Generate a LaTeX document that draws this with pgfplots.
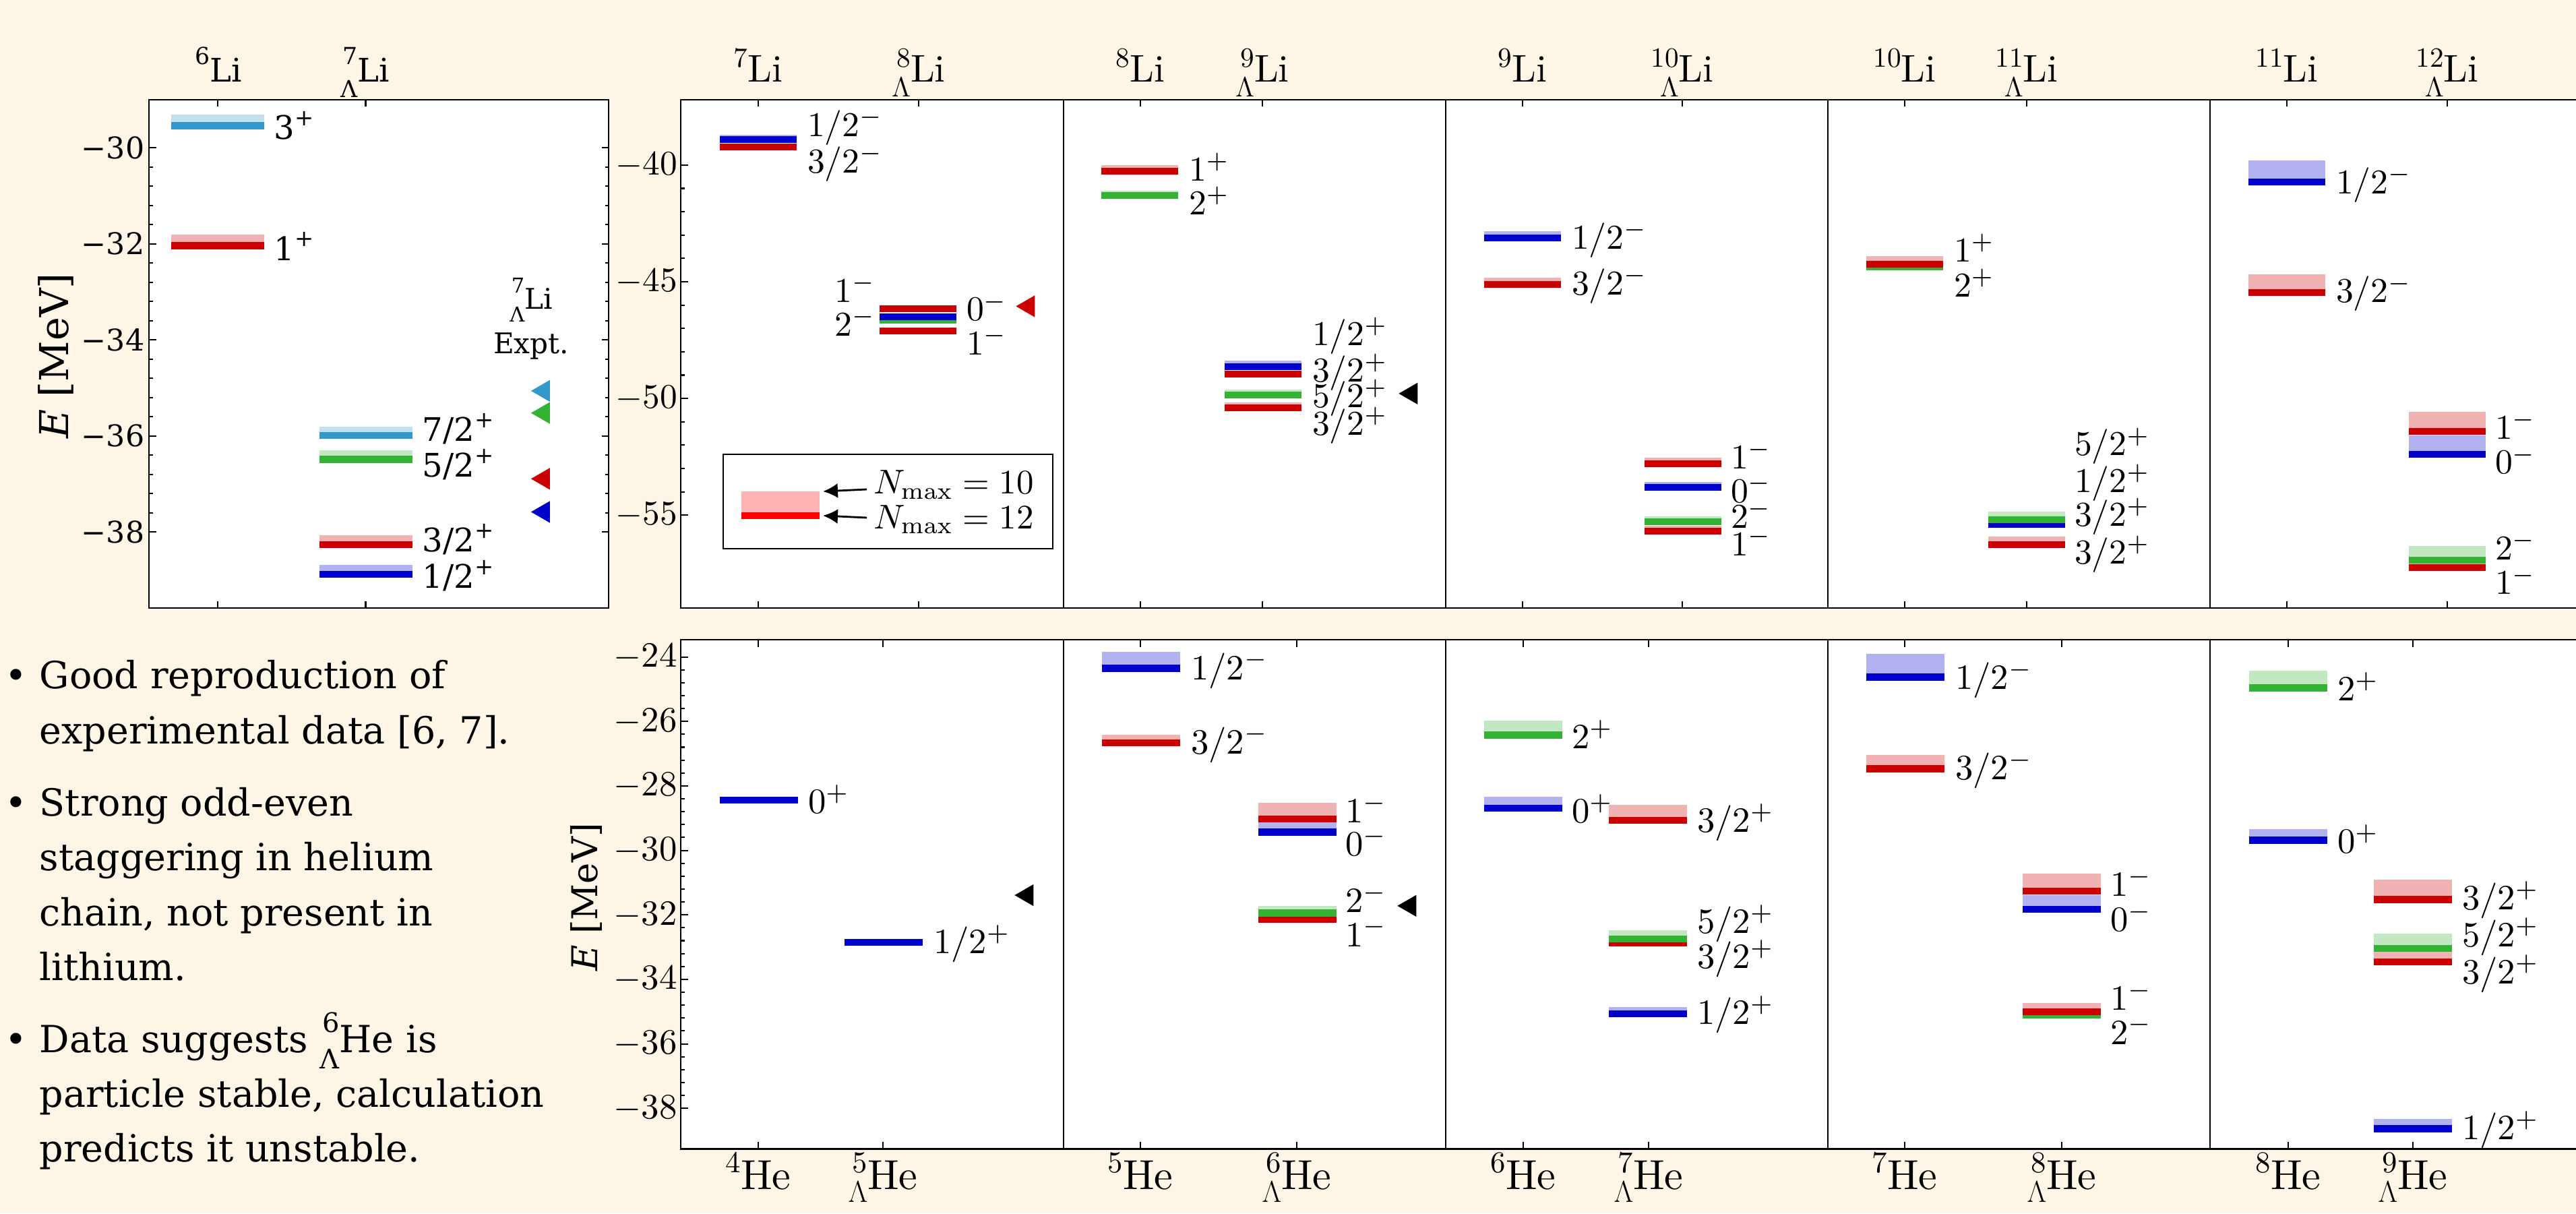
\RequirePackage{fix-cm}
\documentclass[border=0pt]{standalone}
\usepackage[no-math]{fontspec}
\usepackage{graphicx}
\usepackage{pgfplots}
\pgfplotsset{compat=1.18}
\usetikzlibrary{arrows.meta}
\newfontfamily\djv{DejaVu Serif}
\newfontfamily\lmten{lmroman10-regular.otf}

\definecolor{bg}{RGB}{253,246,230}
\definecolor{cR}{RGB}{204,0,0}
\definecolor{cB}{RGB}{0,0,204}
\definecolor{cG}{RGB}{51,178,51}
\definecolor{cS}{RGB}{51,153,204}
\colorlet{lR}{cR!30!white}
\colorlet{lB}{cB!30!white}
\colorlet{lG}{cG!30!white}
\colorlet{lS}{cS!30!white}
\definecolor{legD}{RGB}{255,0,0}
\definecolor{legL}{RGB}{255,179,179}

% stacked prescripts: #1 upper, #2 lower, #3 raise, #4 lower amount
\newcommand\pres[4]{\begingroup
  \setbox0=\hbox{\raisebox{#3}{\scalebox{0.72}{#1}}}%
  \setbox2=\hbox{\raisebox{-#4}{\scalebox{0.72}{#2}}}%
  \dimen0=\wd0 \ifdim\wd2>\dimen0 \dimen0=\wd2 \fi
  \hbox{\hbox to\dimen0{\hss\box0}\kern-\dimen0\hbox to\dimen0{\hss\box2}}\endgroup}
\newcommand\iso[2]{\pres{#1}{}{0.40em}{0pt}#2}
\newcommand\hyp[2]{\pres{#1}{$\Lambda$}{0.40em}{0.37em}#2}
\newcommand\isoH[2]{\pres{#1}{}{0.39em}{0pt}#2}
\newcommand\hypH[2]{\pres{#1}{$\Lambda$}{0.39em}{0.32em}#2}
\newcommand\sps[1]{\raisebox{0.42em}{\scalebox{0.7}{#1}}}

% level: x centre, E(Nmax=12), E(Nmax=10), colour key
\newcommand\lev[4]{%
  \pgfmathsetmacro\xa{#1-\hw}\pgfmathsetmacro\xb{#1+\hw}%
  \edef\tmp{\noexpand\addplot[draw=none,fill=l#4,forget plot] coordinates {(\xa,#2) (\xb,#2) (\xb,#3) (\xa,#3)};%
    \noexpand\addplot[draw=c#4,line width=\barw,forget plot] coordinates {(\xa,#2) (\xb,#2)};}%
  \tmp}

\pgfplotsset{lvl/.style={scale only axis, clip=false, anchor=south west,
  axis line style={line width=0.7pt}, tick style={line width=0.6pt, black},
  major tick length=0.105cm, minor tick length=0.055cm,
  tick align=inside, tick pos=both, axis background/.style={fill=white},
  xticklabels={,,}}}
\pgfplotsset{expt/.style={only marks, mark=triangle*, mark size=4.9pt, forget plot,
  mark options={rotate=90, draw=#1, fill=#1}}}

\tikzset{
  lbT/.style={anchor=base west, inner sep=0pt, font=\djv\fontsize{13.7}{16}\selectfont},
  lbB/.style={anchor=base west, inner sep=0pt, font=\fontsize{10}{12}\selectfont, scale=1.47},
  lbBe/.style={anchor=base east, inner sep=0pt, font=\fontsize{10}{12}\selectfont, scale=1.47},
  lbH/.style={anchor=base west, inner sep=0pt, font=\fontsize{10}{12}\selectfont, scale=1.5},
  isoB/.style={anchor=base, inner sep=0pt, font=\lmten\fontsize{16.3}{19}\selectfont},
  isoH/.style={anchor=base, inner sep=0pt, font=\lmten\fontsize{17.7}{20}\selectfont},
  bul/.style={anchor=base west, inner sep=0pt, font=\djv\fontsize{15.8}{19}\selectfont}
}

\begin{document}
\begin{tikzpicture}[x=1cm,y=1cm]
\fill[bg] (0,0) rectangle (38.22,18);

% ---------------- top-left panel ----------------
\def\hw{0.69}\def\barw{0.106cm}
\begin{axis}[lvl, at={(2.21cm,8.98cm)}, width=6.82cm, height=7.54cm,
  xmin=2.21, xmax=9.03, ymin=-39.58, ymax=-29.0,
  xtick={3.23,5.425},
  ytick={-38,-36,-34,-32,-30}, yticklabels={−38,−36,−34,−32,−30},
  minor y tick num=4,
  yticklabel style={font=\djv\fontsize{12.6}{15}\selectfont, inner sep=0pt, xshift=-0.06cm}]
\lev{3.23}{-29.54}{-29.31}{S}
\lev{3.23}{-32.04}{-31.81}{R}
\lev{5.425}{-35.99}{-35.80}{S}
\lev{5.425}{-36.49}{-36.30}{G}
\lev{5.425}{-38.26}{-38.06}{R}
\lev{5.425}{-38.88}{-38.68}{B}
\addplot[expt=cS] coordinates {(8.065,-35.06)};
\addplot[expt=cG] coordinates {(8.065,-35.52)};
\addplot[expt=cR] coordinates {(8.065,-36.89)};
\addplot[expt=cB] coordinates {(8.065,-37.58)};
\node[lbT] at (axis cs:4.06,-29.82) {3\sps{+}};
\node[lbT] at (axis cs:4.06,-32.34) {1\sps{+}};
\node[lbT] at (axis cs:6.26,-36.11) {7/2\sps{+}};
\node[lbT] at (axis cs:6.26,-36.85) {5/2\sps{+}};
\node[lbT] at (axis cs:6.26,-38.41) {3/2\sps{+}};
\node[lbT] at (axis cs:6.26,-39.17) {1/2\sps{+}};
\node[anchor=base, inner sep=0pt, font=\djv\fontsize{12}{14}\selectfont] at (axis cs:7.88,-33.35) {\pres{7}{Λ}{0.55em}{0.47em}Li};
\node[anchor=base, inner sep=0pt, font=\djv\fontsize{12}{14}\selectfont] at (axis cs:7.88,-34.28) {Expt.};
\node[anchor=base, inner sep=0pt, yshift=0.26cm, font=\djv\fontsize{13.7}{16}\selectfont] at (axis cs:3.24,-29.0) {\pres{6}{}{0.55em}{0pt}Li};
\node[anchor=base, inner sep=0pt, yshift=0.26cm, font=\djv\fontsize{13.7}{16}\selectfont] at (axis cs:5.42,-29.0) {\pres{7}{Λ}{0.55em}{0.47em}Li};
\end{axis}

% ---------------- top big panel ----------------
\def\hw{0.57}\def\barw{0.1cm}
\begin{axis}[lvl, at={(10.10cm,8.98cm)}, width=28.36cm, height=7.54cm,
  xmin=10.10, xmax=38.46, ymin=-58.98, ymax=-37.20,
  xtick={11.25,13.63,16.92,18.73,22.59,24.96,28.26,30.07,33.93,36.31},
  ytick={-55,-50,-45,-40}, minor y tick num=4,
  yticklabel style={inner sep=0pt, xshift=-0.04cm, font=\fontsize{10}{12}\selectfont, scale=1.46}]
\draw[line width=0.7pt] (axis cs:15.78,-58.98) -- (axis cs:15.78,-37.20);
\draw[line width=0.7pt] (axis cs:21.45,-58.98) -- (axis cs:21.45,-37.20);
\draw[line width=0.7pt] (axis cs:27.12,-58.98) -- (axis cs:27.12,-37.20);
\draw[line width=0.7pt] (axis cs:32.79,-58.98) -- (axis cs:32.79,-37.20);
% 7Li
\lev{11.245}{-39.23}{-39.07}{R}
\lev{11.245}{-38.91}{-38.70}{B}
% 8 Lambda Li
\lev{13.62}{-46.15}{-46.05}{R}
\lev{13.62}{-46.64}{-46.55}{G}
\lev{13.62}{-46.50}{-46.42}{B}
\lev{13.62}{-47.11}{-47.02}{R}
% 8Li
\lev{16.91}{-40.25}{-40.01}{R}
\lev{16.91}{-41.30}{-41.09}{G}
% 9 Lambda Li
\lev{18.735}{-48.95}{-48.88}{R}
\lev{18.735}{-48.63}{-48.38}{B}
\lev{18.735}{-49.85}{-49.62}{G}
\lev{18.735}{-50.40}{-50.18}{R}
% 9Li
\lev{22.585}{-43.12}{-42.82}{B}
\lev{22.585}{-45.11}{-44.82}{R}
% 10 Lambda Li
\lev{24.97}{-52.80}{-52.55}{R}
\lev{24.97}{-53.81}{-53.57}{B}
\lev{24.97}{-55.68}{-55.45}{R}
\lev{24.97}{-55.28}{-55.04}{G}
% 10Li
\lev{28.255}{-44.36}{-44.20}{G}
\lev{28.255}{-44.25}{-43.91}{R}
% 11 Lambda Li
\lev{30.07}{-56.26}{-55.93}{R}
\lev{30.07}{-55.40}{-55.30}{B}
\lev{30.07}{-55.21}{-54.84}{G}
% 11Li
\lev{33.925}{-40.73}{-39.79}{B}
\lev{33.925}{-45.45}{-44.69}{R}
% 12 Lambda Li
\lev{36.314}{-51.42}{-50.57}{R}
\lev{36.314}{-52.40}{-51.59}{B}
\lev{36.314}{-57.24}{-57.00}{R}
\lev{36.314}{-56.94}{-56.33}{G}
\addplot[expt=cR] coordinates {(15.26,-46.05)};
\addplot[expt=black] coordinates {(20.94,-49.79)};
% labels
\node[lbB] at (axis cs:11.97,-38.77) {$1/2^-$};
\node[lbB] at (axis cs:11.97,-40.32) {$3/2^-$};
\node[lbBe] at (axis cs:13.00,-45.87) {$1^-$};
\node[lbBe] at (axis cs:13.00,-47.32) {$2^-$};
\node[lbB] at (axis cs:14.33,-46.67) {$0^-$};
\node[lbB] at (axis cs:14.33,-48.14) {$1^-$};
\node[lbB] at (axis cs:17.63,-40.67) {$1^+$};
\node[lbB] at (axis cs:17.63,-42.13) {$2^+$};
\node[lbB] at (axis cs:19.46,-47.72) {$1/2^+$};
\node[lbB] at (axis cs:19.46,-49.28) {$3/2^+$};
\node[lbB] at (axis cs:19.46,-50.38) {$5/2^+$};
\node[lbB] at (axis cs:19.46,-51.57) {$3/2^+$};
\node[lbB] at (axis cs:23.31,-43.60) {$1/2^-$};
\node[lbB] at (axis cs:23.31,-45.55) {$3/2^-$};
\node[lbB] at (axis cs:25.67,-53.01) {$1^-$};
\node[lbB] at (axis cs:25.67,-54.45) {$0^-$};
\node[lbB] at (axis cs:25.67,-55.55) {$2^-$};
\node[lbB] at (axis cs:25.67,-56.74) {$1^-$};
\node[lbB] at (axis cs:28.98,-44.15) {$1^+$};
\node[lbB] at (axis cs:28.98,-45.64) {$2^+$};
\node[lbB] at (axis cs:30.77,-52.45) {$5/2^+$};
\node[lbB] at (axis cs:30.77,-54.03) {$1/2^+$};
\node[lbB] at (axis cs:30.77,-55.47) {$3/2^+$};
\node[lbB] at (axis cs:30.77,-57.08) {$3/2^+$};
\node[lbB] at (axis cs:34.65,-41.23) {$1/2^-$};
\node[lbB] at (axis cs:34.65,-45.89) {$3/2^-$};
\node[lbB] at (axis cs:37.01,-51.74) {$1^-$};
\node[lbB] at (axis cs:37.01,-53.23) {$0^-$};
\node[lbB] at (axis cs:37.01,-56.91) {$2^-$};
\node[lbB] at (axis cs:37.01,-58.40) {$1^-$};
% isotope labels
\node[isoB, yshift=0.26cm] at (axis cs:11.25,-37.20) {\iso{7}{Li}};
\node[isoB, yshift=0.26cm] at (axis cs:13.63,-37.20) {\hyp{8}{Li}};
\node[isoB, yshift=0.26cm] at (axis cs:16.92,-37.20) {\iso{8}{Li}};
\node[isoB, yshift=0.26cm] at (axis cs:18.73,-37.20) {\hyp{9}{Li}};
\node[isoB, yshift=0.26cm] at (axis cs:22.59,-37.20) {\iso{9}{Li}};
\node[isoB, yshift=0.26cm] at (axis cs:24.96,-37.20) {\hyp{10}{Li}};
\node[isoB, yshift=0.26cm] at (axis cs:28.26,-37.20) {\iso{10}{Li}};
\node[isoB, yshift=0.26cm] at (axis cs:30.07,-37.20) {\hyp{11}{Li}};
\node[isoB, yshift=0.26cm] at (axis cs:33.93,-37.20) {\iso{11}{Li}};
\node[isoB, yshift=0.26cm] at (axis cs:36.31,-37.20) {\hyp{12}{Li}};
\end{axis}

% ---------------- bottom big panel ----------------
\def\hw{0.58}\def\barw{0.105cm}
\begin{axis}[lvl, at={(10.10cm,0.955cm)}, width=28.36cm, height=7.553cm,
  xmin=10.10, xmax=38.46, ymin=-39.26, ymax=-23.47,
  xtick={11.25,13.10,16.92,19.24,22.60,24.46,28.26,30.59,33.95,35.80},
  ytick={-38,-36,-34,-32,-30,-28,-26,-24}, minor y tick num=4,
  yticklabel style={inner sep=0pt, xshift=-0.045cm, font=\fontsize{10}{12}\selectfont, scale=1.5}]
\draw[line width=0.7pt] (axis cs:15.78,-39.26) -- (axis cs:15.78,-23.47);
\draw[line width=0.7pt] (axis cs:21.45,-39.26) -- (axis cs:21.45,-23.47);
\draw[line width=0.7pt] (axis cs:27.12,-39.26) -- (axis cs:27.12,-23.47);
\draw[line width=0.7pt] (axis cs:32.79,-39.26) -- (axis cs:32.79,-23.47);
% 4He, 5 Lambda He
\lev{11.255}{-28.44}{-28.40}{B}
\lev{13.105}{-32.85}{-32.80}{B}
% 5He
\lev{16.926}{-24.35}{-23.85}{B}
\lev{16.926}{-26.66}{-26.42}{R}
% 6 Lambda He
\lev{19.247}{-29.04}{-28.53}{R}
\lev{19.247}{-29.43}{-29.14}{B}
\lev{19.247}{-32.14}{-32.00}{R}
\lev{19.247}{-31.94}{-31.72}{G}
% 6He
\lev{22.597}{-26.42}{-25.97}{G}
\lev{22.597}{-28.69}{-28.34}{B}
% 7 Lambda He
\lev{24.453}{-29.07}{-28.59}{R}
\lev{24.453}{-32.87}{-32.75}{R}
\lev{24.453}{-32.75}{-32.48}{G}
\lev{24.453}{-35.07}{-34.85}{B}
% 7He
\lev{28.27}{-24.63}{-23.90}{B}
\lev{28.27}{-27.47}{-27.05}{R}
% 8 Lambda He
\lev{30.593}{-31.26}{-30.73}{R}
\lev{30.593}{-31.83}{-31.38}{B}
\lev{30.593}{-35.10}{-35.00}{G}
\lev{30.593}{-35.01}{-34.74}{R}
% 8He
\lev{33.947}{-24.96}{-24.43}{G}
\lev{33.947}{-29.69}{-29.33}{B}
% 9 Lambda He
\lev{35.803}{-31.52}{-30.90}{R}
\lev{35.803}{-33.46}{-33.15}{R}
\lev{35.803}{-33.04}{-32.58}{G}
\lev{35.803}{-38.63}{-38.33}{B}
\addplot[expt=black] coordinates {(15.24,-31.39)};
\addplot[expt=black] coordinates {(20.92,-31.72)};
% labels
\node[lbH] at (axis cs:11.98,-28.85) {$0^+$};
\node[lbH] at (axis cs:13.84,-33.19) {$1/2^+$};
\node[lbH] at (axis cs:17.66,-24.70) {$1/2^-$};
\node[lbH] at (axis cs:17.66,-27.00) {$3/2^-$};
\node[lbH] at (axis cs:19.95,-29.14) {$1^-$};
\node[lbH] at (axis cs:19.95,-30.17) {$0^-$};
\node[lbH] at (axis cs:19.95,-31.92) {$2^-$};
\node[lbH] at (axis cs:19.95,-32.98) {$1^-$};
\node[lbH] at (axis cs:23.31,-26.85) {$2^+$};
\node[lbH] at (axis cs:23.31,-29.14) {$0^+$};
\node[lbH] at (axis cs:25.17,-29.44) {$3/2^+$};
\node[lbH] at (axis cs:25.17,-32.58) {$5/2^+$};
\node[lbH] at (axis cs:25.17,-33.66) {$3/2^+$};
\node[lbH] at (axis cs:25.17,-35.40) {$1/2^+$};
\node[lbH] at (axis cs:29.00,-25.00) {$1/2^-$};
\node[lbH] at (axis cs:29.00,-27.81) {$3/2^-$};
\node[lbH] at (axis cs:31.30,-31.43) {$1^-$};
\node[lbH] at (axis cs:31.30,-32.51) {$0^-$};
\node[lbH] at (axis cs:31.30,-34.95) {$1^-$};
\node[lbH] at (axis cs:31.30,-36.01) {$2^-$};
\node[lbH] at (axis cs:34.67,-25.36) {$2^+$};
\node[lbH] at (axis cs:34.67,-30.08) {$0^+$};
\node[lbH] at (axis cs:36.52,-31.84) {$3/2^+$};
\node[lbH] at (axis cs:36.52,-32.98) {$5/2^+$};
\node[lbH] at (axis cs:36.52,-34.13) {$3/2^+$};
\node[lbH] at (axis cs:36.52,-38.96) {$1/2^+$};
% isotope labels
\node[isoH, yshift=-0.595cm] at (axis cs:11.25,-39.26) {\isoH{4}{He}};
\node[isoH, yshift=-0.595cm] at (axis cs:13.10,-39.26) {\hypH{5}{He}};
\node[isoH, yshift=-0.595cm] at (axis cs:16.92,-39.26) {\isoH{5}{He}};
\node[isoH, yshift=-0.595cm] at (axis cs:19.24,-39.26) {\hypH{6}{He}};
\node[isoH, yshift=-0.595cm] at (axis cs:22.60,-39.26) {\isoH{6}{He}};
\node[isoH, yshift=-0.595cm] at (axis cs:24.46,-39.26) {\hypH{7}{He}};
\node[isoH, yshift=-0.595cm] at (axis cs:28.26,-39.26) {\isoH{7}{He}};
\node[isoH, yshift=-0.595cm] at (axis cs:30.59,-39.26) {\hypH{8}{He}};
\node[isoH, yshift=-0.595cm] at (axis cs:33.95,-39.26) {\isoH{8}{He}};
\node[isoH, yshift=-0.595cm] at (axis cs:35.80,-39.26) {\hypH{9}{He}};
\end{axis}

% legend box (top big panel)
\draw[line width=0.8pt, fill=white] (10.73,11.26) rectangle (15.62,9.86);
\fill[legL] (11.00,10.71) rectangle (12.16,10.40);
\fill[legD] (11.00,10.40) rectangle (12.16,10.30);
\draw[line width=0.8pt, -{Latex[length=0.22cm,width=0.22cm]}] (12.86,10.74) -- (12.21,10.71);
\draw[line width=0.8pt, -{Latex[length=0.22cm,width=0.22cm]}] (12.86,10.32) -- (12.21,10.35);
\node[anchor=base west, inner sep=0pt, font=\fontsize{10}{12}\selectfont, scale=1.45] at (12.95,10.67) {$N_\mathrm{max}=10$};
\node[anchor=base west, inner sep=0pt, font=\fontsize{10}{12}\selectfont, scale=1.45] at (12.95,10.16) {$N_\mathrm{max}=12$};

% axis titles
\node[rotate=90, inner sep=0pt, font=\djv\fontsize{16.8}{19}\selectfont] at (0.834,12.72) {{\itshape E} [MeV]};
\node[rotate=90, inner sep=0pt, font=\djv\fontsize{15}{18}\selectfont] at (8.70,4.69) {{\itshape E} [MeV]};

% bullets
\node[bul] at (0.064,7.783) {•};
\node[bul] at (0.064,5.90) {•};
\node[bul] at (0.064,2.39) {•};
\node[bul] at (0.58,7.783) {Good reproduction of};
\node[bul] at (0.58,6.97) {experimental data [6, 7].};
\node[bul] at (0.58,5.90) {Strong odd-even};
\node[bul] at (0.58,5.085) {staggering in helium};
\node[bul] at (0.58,4.27) {chain, not present in};
\node[bul] at (0.58,3.455) {lithium.};
\node[bul] at (0.58,2.39) {Data suggests \pres{6}{Λ}{0.53em}{0.44em}He is};
\node[bul] at (0.58,1.58) {particle stable, calculation};
\node[bul] at (0.58,0.77) {predicts it unstable.};

\pgfresetboundingbox
\path[use as bounding box] (0,0) rectangle (38.22,18);
\end{tikzpicture}
\end{document}
